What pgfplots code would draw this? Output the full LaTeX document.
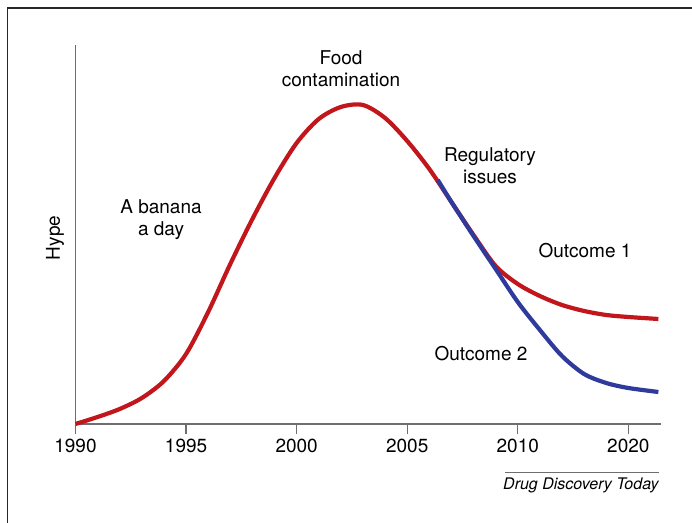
\documentclass[border=0pt]{standalone}
\usepackage{pgfplots}
\pgfplotsset{compat=1.18}
\usepackage{fontspec}
\setmainfont{TeX Gyre Heros}
\definecolor{hred}{HTML}{C1161C}
\definecolor{hblue}{HTML}{2E3A9C}
\definecolor{axgray}{HTML}{6E6E6E}
\begin{document}
\fontsize{9.5}{11}\selectfont
\begin{tikzpicture}
\path[use as bounding box] (0,0) rectangle (346pt,261.5pt);
\begin{axis}[
  at={(37.75pt,49.5pt)}, anchor=south west,
  scale only axis, width=293pt, height=189.5pt,
  xmin=0, xmax=5.3, ymin=0, ymax=379,
  axis lines*=left,
  axis line style={draw=axgray, line width=0.75pt, -},
  xtick={0,1,2,3,4,5},
  xticklabels={1990,1995,2000,2005,2010,2020},
  ytick=\empty,
  tick align=outside, major tick length=5pt,
  tick style={draw=axgray, line width=0.6pt},
  x tick label style={font=\fontsize{9.5}{11}\selectfont, yshift=1pt},
  clip=false,
]
\addplot[hred, line width=2.1pt, smooth] coordinates {
(0.0,0) (0.2,7) (0.4,15) (0.6,26) (0.8,43) (1.0,70) (1.2,112) (1.4,160)
(1.6,205) (1.8,246) (2.0,281) (2.2,305) (2.4,317) (2.6,319) (2.8,306)
(3.0,283) (3.2,255) (3.4,222) (3.6,189) (3.8,158) (4.0,140) (4.2,128)
(4.4,119) (4.6,113) (4.8,109) (5.0,107) (5.272,105)
};
\addplot[hblue, line width=2.1pt, smooth] coordinates {
(3.277,244) (3.4,222) (3.6,188) (3.8,155) (4.0,122) (4.2,94) (4.4,68)
(4.6,50) (4.8,41) (5.0,36) (5.272,32)
};
\end{axis}
\begin{scope}[x=0.5pt, y=-0.5pt, yshift=261.5pt]
\draw[black!85, line width=0.8pt] (7.5,523) -- (7.5,8) -- (692,8);
\node[align=center] at (341,69) {Food\\contamination};
\node[align=center] at (490,166) {Regulatory\\issues};
\node[align=center] at (161,220) {A banana\\a day};
\node at (585,251) {Outcome 1};
\node at (481,354) {Outcome 2};
\node[rotate=90] at (55,238) {Hype};
\draw[axgray, line width=0.5pt] (505,473) -- (659,473);
\node[anchor=east, inner sep=0pt, font=\fontsize{8}{9}\itshape] at (659,485) {Drug Discovery Today};
\end{scope}
\end{tikzpicture}
\end{document}
